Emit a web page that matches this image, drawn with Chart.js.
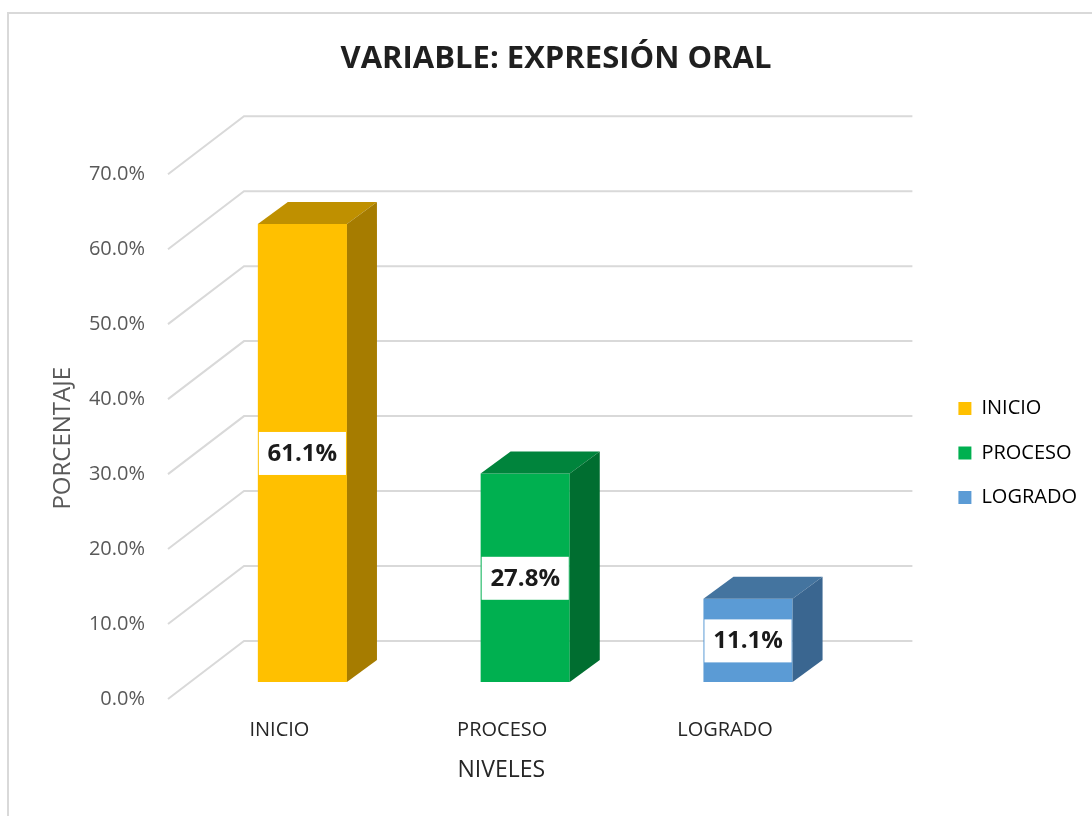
<!DOCTYPE html>
<html>
<head>
<meta charset="utf-8">
<script src="https://cdn.jsdelivr.net/npm/chart.js@4.4.1/dist/chart.umd.min.js"></script>
<style>
  body { margin: 0; overflow: hidden; background: #fff; }
  .wrap { position: absolute; left: 7px; top: 12px; width: 1094px; height: 878px; border: 2px solid #d9d9d9; }
</style>
</head>
<body>
<div class="wrap"><canvas id="myChart"></canvas></div>
<script>
const niveles = ['INICIO', 'PROCESO', 'LOGRADO']
const porcentajes = [61.1, 27.8, 11.1]
const yTicks = [0, 10, 20, 30, 40, 50, 60, 70]

const frontColors = ['#FFC000', '#00B050', '#5B9BD5']
const topColors = ['#BF9000', '#00843C', '#44749F']
const sideColors = ['#A67C00', '#006E30', '#3A6690']

// 3d look: floor/wall offsets from the bar plane, and bar depth
const FRONT = { dx: -23, dy: 17 }
const BACK = { dx: 53, dy: -41 }
const BAR = { dx: 30, dy: -22 }

Chart.defaults.font.family = '"Open Sans", sans-serif'

const depth3d = {
    id: 'depth3d',
    beforeDatasetsDraw(chart) {
        const ctx = chart.ctx
        const y = chart.scales.y
        const { left, right } = chart.chartArea
        ctx.save()
        ctx.strokeStyle = '#d9d9d9'
        ctx.lineWidth = 2
        y.ticks.forEach(t => {
            const py = y.getPixelForValue(t.value)
            ctx.beginPath()
            ctx.moveTo(left + FRONT.dx, py + FRONT.dy)
            ctx.lineTo(left + BACK.dx, py + BACK.dy)
            ctx.lineTo(right + BACK.dx, py + BACK.dy)
            ctx.stroke()
        })
        ctx.restore()
    },
    afterDatasetsDraw(chart) {
        const ctx = chart.ctx
        const bars = chart.getDatasetMeta(0).data
        ctx.save()
        bars.forEach((bar, i) => {
            const { x, y, base, width } = bar.getProps(['x', 'y', 'base', 'width'], true)
            const l = x - width / 2
            const r = x + width / 2
            // top face
            ctx.fillStyle = topColors[i]
            ctx.beginPath()
            ctx.moveTo(l, y)
            ctx.lineTo(l + BAR.dx, y + BAR.dy)
            ctx.lineTo(r + BAR.dx, y + BAR.dy)
            ctx.lineTo(r, y)
            ctx.closePath()
            ctx.fill()
            // side face
            ctx.fillStyle = sideColors[i]
            ctx.beginPath()
            ctx.moveTo(r, y)
            ctx.lineTo(r + BAR.dx, y + BAR.dy)
            ctx.lineTo(r + BAR.dx, base + BAR.dy)
            ctx.lineTo(r, base)
            ctx.closePath()
            ctx.fill()
            // value label
            const cy = (y + base) / 2
            ctx.fillStyle = '#ffffff'
            ctx.fillRect(l + 1, cy - 21, width - 2, 43)
            ctx.fillStyle = '#1a1a1a'
            ctx.font = 'bold 24px "Open Sans"'
            ctx.textAlign = 'center'
            ctx.textBaseline = 'middle'
            ctx.fillText(porcentajes[i].toFixed(1) + '%', x, cy + 1)
        })
        ctx.restore()
    }
}

const myChart = new Chart(document.getElementById('myChart'), {
    type: 'bar',
    data: {
        labels: niveles,
        datasets: [{
            data: porcentajes,
            backgroundColor: frontColors,
            borderWidth: 0,
            categoryPercentage: 1,
            barPercentage: 0.4
        }]
    },
    options: {
        responsive: true,
        maintainAspectRatio: false,
        animation: false,
        layout: { padding: { left: 16, right: 16 } },
        plugins: {
            title: {
                display: true,
                text: 'VARIABLE: EXPRESIÓN ORAL',
                color: '#1f1f1f',
                font: { size: 31, weight: 'bold' },
                padding: { top: 27, bottom: 79 }
            },
            legend: {
                position: 'right',
                labels: {
                    boxWidth: 13,
                    boxHeight: 13,
                    padding: 24.5,
                    color: '#262626',
                    font: { size: 20 },
                    generateLabels: () => niveles.map((n, i) => ({
                        text: n,
                        fillStyle: frontColors[i],
                        strokeStyle: frontColors[i],
                        lineWidth: 0,
                        hidden: false,
                        index: i
                    }))
                }
            },
            tooltip: { enabled: false }
        },
        scales: {
            x: {
                grid: { display: false, drawTicks: false },
                border: { display: false },
                ticks: { padding: 36, labelOffset: -23, color: '#262626', font: { size: 20 } },
                title: {
                    display: true,
                    text: 'NIVELES        ',
                    color: '#262626',
                    font: { size: 23 },
                    padding: { top: 0, bottom: 108 }
                },
                afterFit(s) { s.height = 210 }
            },
            y: {
                min: yTicks[0],
                max: yTicks[yTicks.length - 1],
                grid: { display: false, drawTicks: false },
                border: { display: false },
                ticks: {
                    stepSize: yTicks[1] - yTicks[0],
                    padding: 46,
                    labelOffset: 17,
                    color: '#595959',
                    font: { size: 20 },
                    callback: v => v.toFixed(1) + '%'
                },
                title: {
                    display: true,
                    text: 'PORCENTAJE      ',
                    color: '#595959',
                    font: { size: 24 },
                    padding: { top: 24, bottom: 0 }
                },
                afterFit(s) { s.width = 166 }
            },
            // empty axis, only keeps the room for the back wall before the legend
            y2: {
                type: 'linear',
                position: 'right',
                grid: { display: false, drawTicks: false },
                border: { display: false },
                ticks: { display: false },
                afterFit(s) { s.width = 74.5 }
            }
        }
    },
    plugins: [depth3d]
})
</script>
</body>
</html>
